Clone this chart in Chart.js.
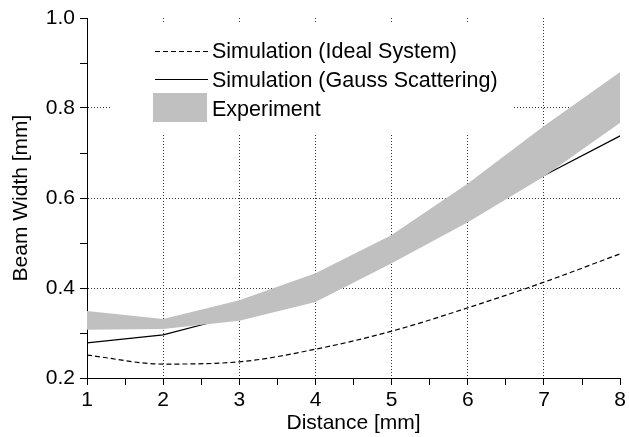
<!DOCTYPE html>
<html>
<head>
<meta charset="utf-8">
<script src="https://cdn.jsdelivr.net/npm/chart.js@4/dist/chart.umd.min.js"></script>
<style>
  html, body { margin: 0; padding: 0; background: #fff; }
  #wrap { width: 629px; height: 437px; position: relative; }
</style>
</head>
<body>
<div id="wrap"><canvas id="c" width="629" height="437"></canvas></div>
<script>
const distance = [1, 2, 3, 4, 5, 6, 7, 8];
const idealSystem = [0.251, 0.231, 0.236, 0.264, 0.304, 0.356, 0.413, 0.476];
const gaussScattering = [0.278, 0.296, 0.340, 0.404, 0.480, 0.560, 0.650, 0.738];
const experimentUpper = [0.349, 0.331, 0.373, 0.433, 0.518, 0.632, 0.760, 0.880];
const experimentLower = [0.307, 0.309, 0.327, 0.369, 0.455, 0.546, 0.648, 0.767];
const legendLabels = ['Simulation (Ideal System)', 'Simulation (Gauss Scattering)', 'Experiment'];
const xTitle = 'Distance [mm]';
const yTitle = 'Beam Width [mm]';

const FONT = "'Liberation Sans', Arial, sans-serif";
const pts = arr => arr.map((v, i) => ({ x: distance[i], y: v }));
const BAND = '#c0c0c0';

const legendPlugin = {
  id: 'insideLegend',
  beforeDatasetsDraw(chart) {
    const ctx = chart.ctx;
    ctx.save();
    ctx.fillStyle = '#fff';
    ctx.fillRect(110, 24, 403, 111);
    ctx.strokeStyle = '#000';
    ctx.lineWidth = 1;
    ctx.setLineDash([5, 3]);
    ctx.beginPath(); ctx.moveTo(155, 51.5); ctx.lineTo(208, 51.5); ctx.stroke();
    ctx.setLineDash([]);
    ctx.beginPath(); ctx.moveTo(155, 79.5); ctx.lineTo(208, 79.5); ctx.stroke();
    ctx.fillStyle = BAND;
    ctx.fillRect(153, 93, 54, 29);
    ctx.fillStyle = '#000';
    ctx.font = '21.5px ' + FONT;
    ctx.textBaseline = 'alphabetic';
    ctx.textAlign = 'left';
    ctx.fillText(legendLabels[0], 212, 58);
    ctx.fillText(legendLabels[1], 212, 87);
    ctx.fillText(legendLabels[2], 212, 116);
    ctx.restore();
  }
};

const gridColorFor = (ok) => (ctx) => {
  const v = ctx.tick ? ctx.tick.value : null;
  if (v === null) return 'rgba(0,0,0,0)';
  return ok(v) ? '#333' : 'rgba(0,0,0,0)';
};

new Chart(document.getElementById('c'), {
  type: 'line',
  data: {
    datasets: [
      { label: 'ExpUpper', data: pts(experimentUpper), borderWidth: 0, borderColor: BAND, backgroundColor: BAND, fill: '+1', pointRadius: 0, tension: 0 },
      { label: 'ExpLower', data: pts(experimentLower), borderWidth: 0, borderColor: BAND, backgroundColor: BAND, fill: false, pointRadius: 0, tension: 0 },
      { label: legendLabels[1], data: pts(gaussScattering), borderColor: '#000', borderWidth: 1.2, fill: false, pointRadius: 0, tension: 0 },
      { label: legendLabels[0], data: pts(idealSystem), borderColor: '#000', borderWidth: 1.2, borderDash: [5, 3], fill: false, pointRadius: 0, cubicInterpolationMode: 'monotone' }
    ]
  },
  options: {
    responsive: false,
    animation: false,
    devicePixelRatio: 1,
    layout: { padding: { top: 18, right: 6, left: 0, bottom: 0 } },
    plugins: { legend: { display: false }, tooltip: { enabled: false } },
    scales: {
      x: {
        type: 'linear', min: 1, max: 8,
        afterFit: s => { s.height = 59; },
        ticks: {
          stepSize: 0.5, autoSkip: false, maxRotation: 0, padding: 3,
          color: '#000', font: { family: FONT, size: 21 },
          callback: v => Number.isInteger(v) ? String(v) : ''
        },
        grid: {
          color: gridColorFor(v => Number.isInteger(v) && v > 1 && v < 8),
          lineWidth: 1, drawTicks: true, tickLength: 7, tickColor: '#000', tickWidth: 1
        },
        border: { display: true, color: '#000', width: 1, dash: [1, 2] },
        title: { display: true, text: xTitle, color: '#000', font: { family: FONT, size: 21 }, padding: { top: 0, bottom: 1.5 } }
      },
      y: {
        min: 0.2, max: 1.0,
        afterFit: s => { s.width = 87; },
        ticks: {
          stepSize: 0.1, autoSkip: false, padding: 5,
          color: '#000', font: { family: FONT, size: 21 },
          callback: v => { const k = Math.round(v * 10); return k % 2 === 0 ? (k / 10).toFixed(1) : ''; }
        },
        grid: {
          color: gridColorFor(v => { const k = Math.round(v * 10); return k % 2 === 0 && k > 2 && k < 10; }),
          lineWidth: 1, drawTicks: true, tickLength: 7, tickColor: '#000', tickWidth: 1
        },
        border: { display: true, color: '#000', width: 1, dash: [1, 2] },
        title: { display: true, text: yTitle, color: '#000', font: { family: FONT, size: 21 }, padding: { top: 8.4, bottom: 0 } }
      }
    }
  },
  plugins: [legendPlugin]
});
</script>
</body>
</html>
